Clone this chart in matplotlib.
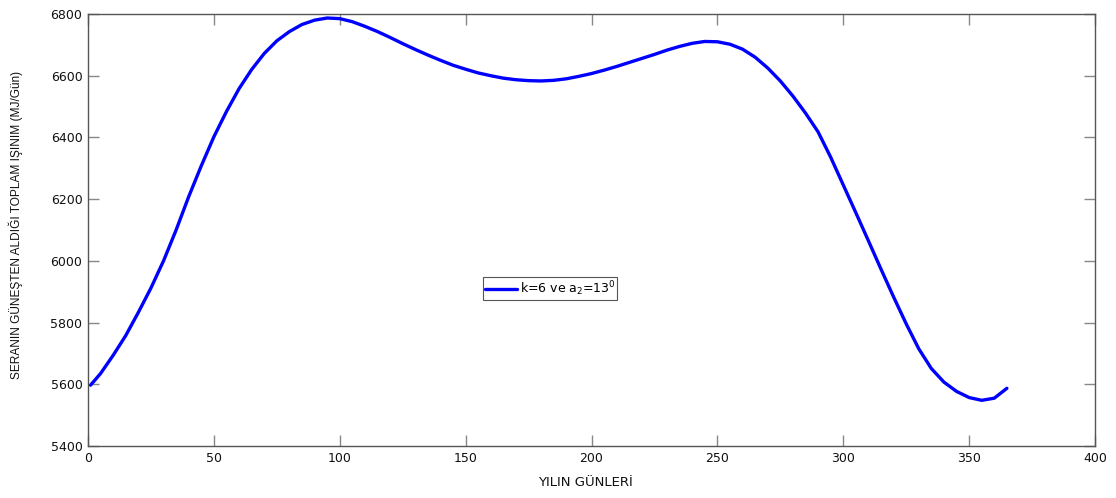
import matplotlib
matplotlib.use("Agg")
import matplotlib.pyplot as plt

# Daily total solar radiation received by the greenhouse (MJ/day)
days = [1, 5, 10, 15, 20, 25, 30, 35, 40, 45, 50, 55, 60, 65, 70, 75, 80, 85,
        90, 95, 100, 105, 110, 115, 120, 125, 130, 135, 140, 145, 150, 155,
        160, 165, 170, 175, 180, 185, 190, 195, 200, 205, 210, 215, 220, 225,
        230, 235, 240, 245, 250, 255, 260, 265, 270, 275, 280, 285, 290, 295,
        300, 305, 310, 315, 320, 325, 330, 335, 340, 345, 350, 355, 360, 365]
radiation = [5597, 5635, 5694, 5758, 5833, 5912, 6000, 6100, 6208, 6308,
             6402, 6484, 6558, 6620, 6672, 6713, 6743, 6766, 6780, 6787,
             6785, 6775, 6760, 6743, 6724, 6704, 6685, 6667, 6650, 6634,
             6621, 6609, 6600, 6592, 6587, 6584, 6583, 6585, 6590, 6598,
             6607, 6618, 6630, 6643, 6656, 6669, 6683, 6695, 6705, 6711,
             6710, 6702, 6686, 6660, 6625, 6583, 6534, 6479, 6418, 6336,
             6246, 6156, 6065, 5973, 5883, 5796, 5715, 5651, 5607, 5577,
             5557, 5548, 5555, 5587]

x_ticks = [0, 50, 100, 150, 200, 250, 300, 350, 400]
y_ticks = [5400, 5600, 5800, 6000, 6200, 6400, 6600, 6800]

series_label = r"k=6 ve a$_2$=13$^0$"
x_label = "YILIN GÜNLERİ"
y_label = "SERANIN GÜNEŞTEN ALDIĞI TOPLAM IŞINIM (MJ/Gün)"

plt.rcParams["font.family"] = ["DejaVu Sans"]
plt.rcParams["mathtext.fontset"] = "dejavusans"

fig = plt.figure(figsize=(11.16, 4.98), dpi=100)
ax = fig.add_axes([88 / 1116, 1 - 446 / 498, (1095 - 88) / 1116, (446 - 14) / 498])

ax.plot(days, radiation, color="#0000ff", linewidth=2.4, label=series_label,
        solid_joinstyle="round", solid_capstyle="round")

ax.set_xlim(0, 400)
ax.set_ylim(5400, 6800)
ax.set_xticks(x_ticks)
ax.set_yticks(y_ticks)
ax.tick_params(direction="in", length=8, width=1.0, color="#888888",
               top=True, right=True, labelsize=9, labelcolor="#111111")
ax.tick_params(axis="x", pad=4)
ax.tick_params(axis="y", pad=4)
for s in ax.spines.values():
    s.set_color("#555555")
    s.set_linewidth(1.0)

ax.set_xlabel(x_label, fontsize=9.5, color="#111111")
ax.xaxis.set_label_coords(0.4935, -0.069)
ax.set_ylabel(y_label, fontsize=8.6, color="#111111",
              family=["Liberation Sans", "DejaVu Sans"])
ax.yaxis.set_label_coords(-0.0645, 0.512)

leg = ax.legend(loc="center", bbox_to_anchor=(0.4588, 0.3646), fontsize=9,
                fancybox=False, framealpha=1, edgecolor="#555555",
                handlelength=2.6, handletextpad=0.2, borderpad=0.15,
                borderaxespad=0)
leg.get_frame().set_linewidth(0.8)

fig.savefig("out.png", dpi=100)
